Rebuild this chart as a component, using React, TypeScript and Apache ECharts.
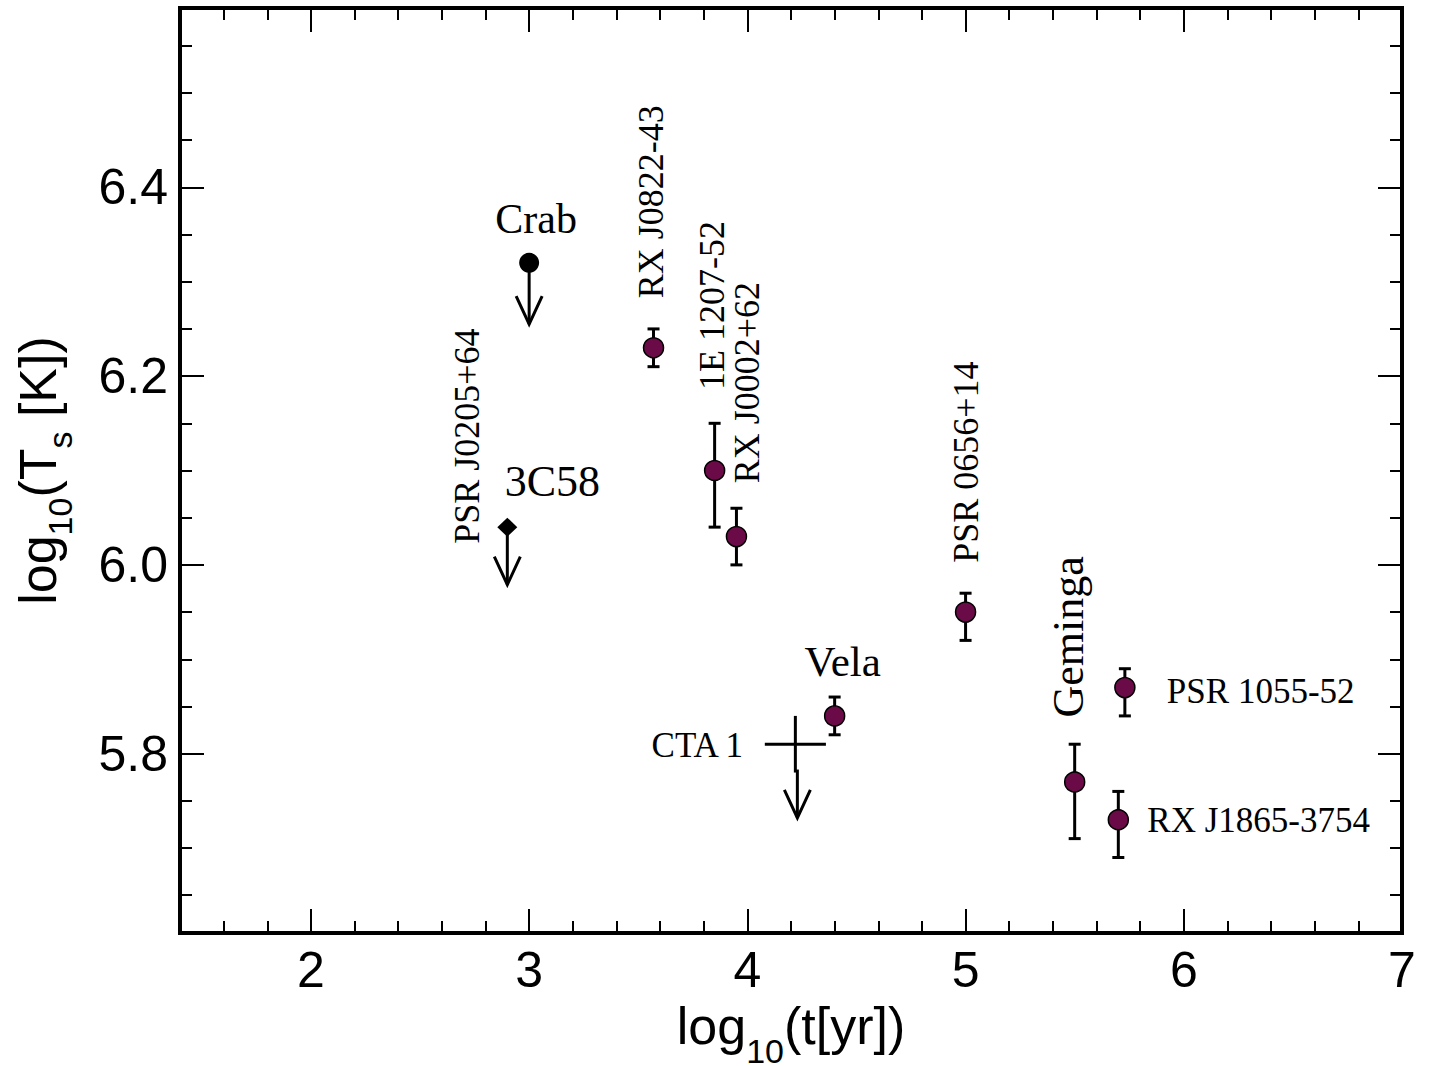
import React, { useEffect, useRef } from "react";
import * as echarts from "echarts";

// ---- data ----
const detNames = ["RX J0822-43", "1E 1207-52", "RX J0002+62", "Vela", "PSR 0656+14", "Geminga", "PSR 1055-52", "RX J1865-3754"];
const detX = [3.57, 3.85, 3.95, 4.4, 5.0, 5.5, 5.73, 5.7];
const detY = [6.23, 6.1, 6.03, 5.84, 5.95, 5.77, 5.87, 5.73];
const detYHi = [6.25, 6.15, 6.06, 5.86, 5.97, 5.81, 5.89, 5.76];
const detYLo = [6.21, 6.04, 6.0, 5.82, 5.92, 5.71, 5.84, 5.69];

const limNames = ["Crab", "3C58"];
const limX = [3.0, 2.9];
const limY = [6.32, 6.04];
const limTip = [6.255, 5.979];

const ctaName = "CTA 1";
const ctaX = 4.22;
const ctaY = 5.81;
const ctaXLo = 4.08;
const ctaXHi = 4.36;
const ctaYHi = 5.84;
const ctaYLo = 5.78;
const ctaTip = 5.732;

const xMajor = [2, 3, 4, 5, 6, 7];
const xMinor = [1.6, 1.8, 2.2, 2.4, 2.6, 2.8, 3.2, 3.4, 3.6, 3.8, 4.2, 4.4, 4.6, 4.8, 5.2, 5.4, 5.6, 5.8, 6.2, 6.4, 6.6, 6.8];
const yMajor = [5.8, 6.0, 6.2, 6.4];
const yMinor = [5.65, 5.7, 5.75, 5.85, 5.9, 5.95, 6.05, 6.1, 6.15, 6.25, 6.3, 6.35, 6.45, 6.5, 6.55];

// label text -> which source it is anchored to
const labelTexts = ["Crab", "3C58", "PSR J0205+64", "RX J0822-43", "1E 1207-52", "RX J0002+62", "Vela", "CTA 1", "PSR 0656+14", "Geminga", "PSR 1055-52", "RX J1865-3754"];
const labelAnchors = ["Crab", "3C58", "3C58", "RX J0822-43", "1E 1207-52", "RX J0002+62", "Vela", "CTA 1", "PSR 0656+14", "Geminga", "PSR 1055-52", "RX J1865-3754"];

// ---- styles / layout (pixel offsets from anchor) ----
const labelLayout: Record<string, { dx: number; dy: number; size: number; rot?: boolean; align?: string }> = {
  "Crab": { dx: 7, dy: -44, size: 42 },
  "3C58": { dx: 45, dy: -46, size: 44 },
  "PSR J0205+64": { dx: -40, dy: -91, size: 36, rot: true },
  "RX J0822-43": { dx: -3, dy: -146, size: 36, rot: true },
  "1E 1207-52": { dx: -3, dy: -165, size: 36, rot: true },
  "RX J0002+62": { dx: 11, dy: -154, size: 36, rot: true },
  "Vela": { dx: 8, dy: -54, size: 43 },
  "CTA 1": { dx: -98, dy: 1, size: 35 },
  "PSR 0656+14": { dx: 0, dy: -150, size: 36, rot: true },
  "Geminga": { dx: -6, dy: -145, size: 44, rot: true },
  "PSR 1055-52": { dx: 42, dy: 4, size: 35, align: "left" },
  "RX J1865-3754": { dx: 29, dy: 1, size: 35, align: "left" },
};

const SERIF = "'Liberation Serif', 'Times New Roman', serif";
const SANS = "'Liberation Sans', Arial, sans-serif";
const MARKER = "#6a0a46";

function anchorOf(name: string): [number, number] {
  let i = detNames.indexOf(name);
  if (i >= 0) return [detX[i], detY[i]];
  i = limNames.indexOf(name);
  if (i >= 0) return [limX[i], limY[i]];
  return [ctaX, ctaY];
}

function arrowHead(tx: number, ty: number) {
  return {
    type: "polyline",
    shape: { points: [[tx - 13, ty - 28], [tx, ty], [tx + 13, ty - 28]] },
    style: { stroke: "#000", lineWidth: 3, fill: "none" },
  };
}

export default function App() {
  const ref = useRef<HTMLDivElement>(null);
  useEffect(() => {
    document.body.style.margin = "0";
    const chart = echarts.init(ref.current!, null, { renderer: "svg" });

    const tickStyle = { color: "#000", width: 2 };
    const mkX = (pos: string, vals: number[], len: number, labels: boolean) => ({
      type: "value",
      position: pos,
      min: 1.4,
      max: 7,
      axisLine: { show: false },
      splitLine: { show: false },
      axisTick: { show: true, inside: true, length: len, customValues: vals, lineStyle: tickStyle },
      axisLabel: labels
        ? { show: true, customValues: xMajor, fontSize: 50, fontFamily: SANS, color: "#000", margin: 12, formatter: (v: number) => String(Math.round(v)) }
        : { show: false },
    });
    const mkY = (pos: string, vals: number[], len: number, labels: boolean) => ({
      type: "value",
      position: pos,
      min: 5.61,
      max: 6.59,
      axisLine: { show: false },
      splitLine: { show: false },
      axisTick: { show: true, inside: true, length: len, customValues: vals, lineStyle: tickStyle },
      axisLabel: labels
        ? { show: true, customValues: yMajor, fontSize: 50, fontFamily: SANS, color: "#000", margin: 12, formatter: (v: number) => v.toFixed(1) }
        : { show: false },
    });

    const xAxes: any[] = [
      mkX("bottom", xMajor, 24, true),
      mkX("bottom", xMinor, 12, false),
      mkX("top", xMajor, 24, false),
      mkX("top", xMinor, 12, false),
    ];
    xAxes[0].name = "{a|log}{b|10}{a|(t[yr])}";
    xAxes[0].nameLocation = "middle";
    xAxes[0].nameGap = 51;
    xAxes[0].nameTextStyle = {
      rich: {
        a: { fontSize: 52, fontFamily: SANS, color: "#000" },
        b: { fontSize: 34, fontFamily: SANS, color: "#000", padding: [50, 0, 0, 0] },
      },
    };
    const yAxes: any[] = [
      mkY("left", yMajor, 24, true),
      mkY("left", yMinor, 12, false),
      mkY("right", yMajor, 24, false),
      mkY("right", yMinor, 12, false),
    ];
    yAxes[0].name = "{a|log}{b|10}{a|(T}{b|s}{a| [K])}";
    yAxes[0].nameLocation = "middle";
    yAxes[0].nameRotate = 90;
    yAxes[0].nameGap = 103;
    yAxes[0].nameTextStyle = {
      rich: {
        a: { fontSize: 52, fontFamily: SANS, color: "#000" },
        b: { fontSize: 34, fontFamily: SANS, color: "#000", padding: [44, 0, 0, 0] },
      },
    };

    const errData = detX.map((x, i) => [x, detYLo[i], detYHi[i]]);
    const detData = detX.map((x, i) => [x, detY[i]]);
    const limArrowData = limX.map((x, i) => [x, limY[i], limTip[i]]);
    const labelData = labelTexts.map((t, i) => {
      const a = anchorOf(labelAnchors[i]);
      return [a[0], a[1], i];
    });

    const option: any = {
      animation: false,
      backgroundColor: "#fff",
      grid: {
        left: 180, right: 28, top: 8, bottom: 133,
        show: true, borderColor: "#000", borderWidth: 4, backgroundColor: "transparent",
        containLabel: false, outerBoundsMode: "none",
      },
      xAxis: xAxes,
      yAxis: yAxes,
      series: [
        {
          type: "custom",
          name: "errors",
          xAxisIndex: 0, yAxisIndex: 0,
          z: 2,
          encode: { x: 0, y: [1, 2] },
          data: errData,
          renderItem: (params: any, api: any) => {
            const x = api.value(0);
            const pLo = api.coord([x, api.value(1)]);
            const pHi = api.coord([x, api.value(2)]);
            const w = 6;
            const st = { stroke: "#000", lineWidth: 3 };
            return {
              type: "group",
              children: [
                { type: "line", shape: { x1: pLo[0], y1: pLo[1], x2: pHi[0], y2: pHi[1] }, style: st },
                { type: "line", shape: { x1: pLo[0] - w, y1: pLo[1], x2: pLo[0] + w, y2: pLo[1] }, style: st },
                { type: "line", shape: { x1: pHi[0] - w, y1: pHi[1], x2: pHi[0] + w, y2: pHi[1] }, style: st },
              ],
            };
          },
        },
        {
          type: "scatter",
          name: "detections",
          xAxisIndex: 0, yAxisIndex: 0,
          z: 3,
          symbol: "circle",
          symbolSize: 20,
          itemStyle: { color: MARKER, borderColor: "#000", borderWidth: 1.5, opacity: 1 },
          data: detData,
        },
        {
          type: "custom",
          name: "limits",
          xAxisIndex: 0, yAxisIndex: 0,
          z: 2,
          encode: { x: 0, y: [1, 2] },
          data: limArrowData,
          renderItem: (params: any, api: any) => {
            const x = api.value(0);
            const p0 = api.coord([x, api.value(1)]);
            const p1 = api.coord([x, api.value(2)]);
            return {
              type: "group",
              children: [
                { type: "line", shape: { x1: p0[0], y1: p0[1], x2: p1[0], y2: p1[1] }, style: { stroke: "#000", lineWidth: 3 } },
                arrowHead(p1[0], p1[1]),
              ],
            };
          },
        },
        {
          type: "scatter",
          name: "Crab",
          xAxisIndex: 0, yAxisIndex: 0,
          z: 3,
          symbol: "circle",
          symbolSize: 20,
          itemStyle: { color: "#000", opacity: 1 },
          data: [[limX[0], limY[0]]],
        },
        {
          type: "scatter",
          name: "3C58",
          xAxisIndex: 0, yAxisIndex: 0,
          z: 3,
          symbol: "diamond",
          symbolSize: [20, 19],
          itemStyle: { color: "#000", opacity: 1 },
          data: [[limX[1], limY[1]]],
        },
        {
          type: "custom",
          name: ctaName,
          xAxisIndex: 0, yAxisIndex: 0,
          z: 2,
          encode: { x: [0, 1, 2], y: [3, 4, 5, 6] },
          data: [[ctaX, ctaXLo, ctaXHi, ctaY, ctaYHi, ctaYLo, ctaTip]],
          renderItem: (params: any, api: any) => {
            const x = api.value(0);
            const y = api.value(3);
            const pl = api.coord([api.value(1), y]);
            const pr = api.coord([api.value(2), y]);
            const pt = api.coord([x, api.value(4)]);
            const pb = api.coord([x, api.value(5)]);
            const ptip = api.coord([x, api.value(6)]);
            const st = { stroke: "#000", lineWidth: 3 };
            return {
              type: "group",
              children: [
                { type: "line", shape: { x1: pl[0], y1: pl[1], x2: pr[0], y2: pr[1] }, style: st },
                { type: "line", shape: { x1: pt[0], y1: pt[1], x2: pb[0], y2: pb[1] }, style: st },
                { type: "line", shape: { x1: pb[0] + 2, y1: pb[1] - 3, x2: ptip[0] + 2, y2: ptip[1] }, style: st },
                arrowHead(ptip[0] + 2, ptip[1]),
              ],
            };
          },
        },
        {
          type: "custom",
          name: "labels",
          xAxisIndex: 0, yAxisIndex: 0,
          z: 4,
          encode: { x: 0, y: 1 },
          data: labelData,
          renderItem: (params: any, api: any) => {
            const idx = api.value(2);
            const text = labelTexts[idx];
            const lay = labelLayout[text];
            const p = api.coord([api.value(0), api.value(1)]);
            return {
              type: "text",
              x: p[0] + lay.dx,
              y: p[1] + lay.dy,
              rotation: lay.rot ? Math.PI / 2 : 0,
              style: {
                text,
                fontFamily: SERIF,
                fontSize: lay.size,
                fill: "#000",
                align: lay.align || "center",
                verticalAlign: "middle",
              },
            };
          },
        },
      ],
    };
    chart.setOption(option);
    return () => chart.dispose();
  }, []);
  return <div ref={ref} style={{ width: 1430, height: 1066 }} />;
}
